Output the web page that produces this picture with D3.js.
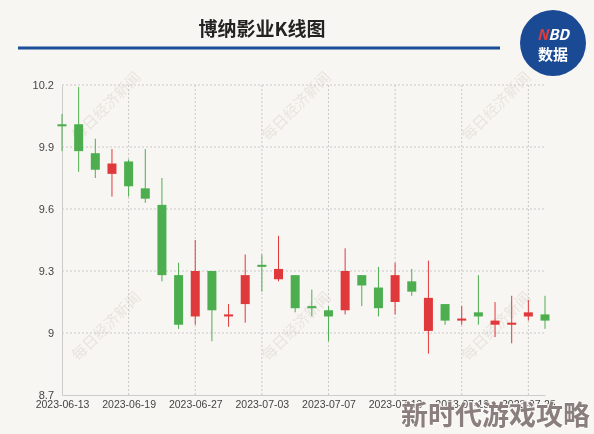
<!DOCTYPE html>
<html><head><meta charset="utf-8">
<script src="https://cdn.jsdelivr.net/npm/d3@7"></script>
<style>
body{margin:0;background:#f8f6f2;font-family:"Noto Sans CJK SC","Noto Sans",sans-serif;}
</style></head>
<body>
<svg id="chart" width="594" height="434"></svg>
<script>
var dates = ["2023-06-13","2023-06-14","2023-06-15","2023-06-16","2023-06-19","2023-06-20","2023-06-21","2023-06-26",
  "2023-06-27","2023-06-28","2023-06-29","2023-06-30","2023-07-03","2023-07-04","2023-07-05","2023-07-06",
  "2023-07-07","2023-07-10","2023-07-11","2023-07-12","2023-07-13","2023-07-14","2023-07-17","2023-07-18",
  "2023-07-19","2023-07-20","2023-07-21","2023-07-24","2023-07-25","2023-07-26"];
var open  = [10.01,10.01,9.87,9.77,9.83,9.70,9.62,9.28,9.08,9.30,9.08,9.14,9.33,9.26,9.28,9.13,9.11,9.11,9.28,9.22,9.15,9.25,9.01,9.14,9.06,9.10,9.04,9.04,9.08,9.09];
var close = [10.00,9.88,9.79,9.82,9.71,9.65,9.28,9.04,9.30,9.11,9.09,9.28,9.32,9.31,9.12,9.12,9.08,9.30,9.23,9.12,9.28,9.20,9.17,9.06,9.07,9.08,9.06,9.05,9.10,9.06];
var high  = [10.06,10.19,9.94,9.89,9.84,9.89,9.75,9.34,9.45,9.30,9.14,9.38,9.38,9.47,9.28,9.21,9.13,9.41,9.28,9.32,9.34,9.31,9.35,9.14,9.13,9.28,9.15,9.18,9.16,9.18];
var low   = [9.88,9.78,9.75,9.66,9.66,9.63,9.25,9.02,9.04,8.96,9.03,9.05,9.20,9.25,9.10,9.08,8.96,9.09,9.13,9.08,9.09,9.18,8.90,9.04,9.04,9.04,8.98,8.95,9.06,9.02];
var yTicks = [8.7, 9, 9.3, 9.6, 9.9, 10.2];
var labelEvery = 4;

var svg = d3.select("#chart");
var pLeft = 62, pRight = 545, pTop = 85, pBottom = 395;

// watermark
var wm = svg.append("g").attr("fill", "#ddd8d0").attr("font-size", 15).attr("opacity", 0.6);
[[110,110],[300,110],[500,110],[110,330],[300,330],[500,330]].forEach(function(p) {
  wm.append("text").attr("transform", "translate(" + p[0] + "," + p[1] + ") rotate(-45)")
    .attr("text-anchor", "middle").text("每日经济新闻");
});

// header
svg.append("text").attr("x", 262).attr("y", 36).attr("text-anchor", "middle")
  .attr("font-size", 19).attr("font-weight", "bold").attr("fill", "#222").text("博纳影业K线图");
svg.append("line").attr("x1", 18).attr("x2", 500).attr("y1", 48).attr("y2", 48)
  .attr("stroke", "#1b4d98").attr("stroke-width", 3);
svg.append("circle").attr("cx", 553).attr("cy", 43).attr("r", 33).attr("fill", "#1a4a94");
var nbd = svg.append("text").attr("x", 553).attr("y", 40).attr("text-anchor", "middle")
  .attr("font-size", 15).attr("font-weight", "bold").attr("font-style", "italic").attr("fill", "#fff");
nbd.append("tspan").attr("fill", "#e23a3a").text("N");
nbd.append("tspan").text("BD");
svg.append("text").attr("x", 553).attr("y", 60).attr("text-anchor", "middle")
  .attr("font-size", 15).attr("font-weight", "bold").attr("fill", "#fff").text("数据");

var x = d3.scalePoint().domain(dates).range([pLeft, pRight]);
var y = d3.scaleLinear().domain([8.7, 10.2]).range([pBottom, pTop]);

// grid
var grid = svg.append("g").attr("stroke", "#c8c8c8").attr("stroke-dasharray", "2,2");
yTicks.slice(1).forEach(function(t) {
  grid.append("line").attr("x1", pLeft).attr("x2", pRight).attr("y1", y(t)).attr("y2", y(t));
});
dates.forEach(function(d, i) {
  if (i % labelEvery === 0 && i > 0)
    grid.append("line").attr("x1", x(d)).attr("x2", x(d)).attr("y1", pTop).attr("y2", pBottom);
});

var yAxis = svg.append("g").attr("transform", "translate(" + pLeft + ",0)")
  .call(d3.axisLeft(y).tickValues(yTicks).tickSize(0).tickPadding(8).tickFormat(d3.format("")));
yAxis.select(".domain").attr("stroke", "#ccc");
yAxis.selectAll("text").attr("font-size", 11).attr("fill", "#444");

var xAxis = svg.append("g").attr("transform", "translate(0," + pBottom + ")")
  .call(d3.axisBottom(x).tickValues(dates.filter(function(d, i) { return i % labelEvery === 0; }))
    .tickSize(0).tickPadding(6));
xAxis.select(".domain").attr("stroke", "#ccc");
xAxis.selectAll("text").attr("font-size", 10.5).attr("fill", "#444");

// candles
var data = dates.map(function(d, i) {
  return {date: d, o: open[i], c: close[i], h: high[i], l: low[i]};
});
var bw = 9;
var g = svg.append("g").selectAll("g").data(data).enter().append("g")
  .attr("fill", function(d) { return d.c >= d.o ? "#e0393b" : "#4cae4f"; })
  .attr("stroke", function(d) { return d.c >= d.o ? "#e0393b" : "#4cae4f"; });
g.append("line").attr("x1", function(d) { return x(d.date); }).attr("x2", function(d) { return x(d.date); })
  .attr("y1", function(d) { return y(d.h); }).attr("y2", function(d) { return y(d.l); }).attr("stroke-width", 1);
g.append("rect").attr("x", function(d) { return x(d.date) - bw / 2; }).attr("width", bw)
  .attr("y", function(d) { return y(Math.max(d.o, d.c)); })
  .attr("height", function(d) { return Math.max(2, Math.abs(y(d.o) - y(d.c))); })
  .attr("stroke", "none");

// overlay caption
svg.append("text").attr("x", 590).attr("y", 425).attr("text-anchor", "end")
  .attr("font-size", 27).attr("font-weight", "bold").attr("fill", "#8a7f7c")
  .attr("stroke", "#fff").attr("stroke-width", 1.5).attr("paint-order", "stroke").text("新时代游戏攻略");
</script>
</body></html>
